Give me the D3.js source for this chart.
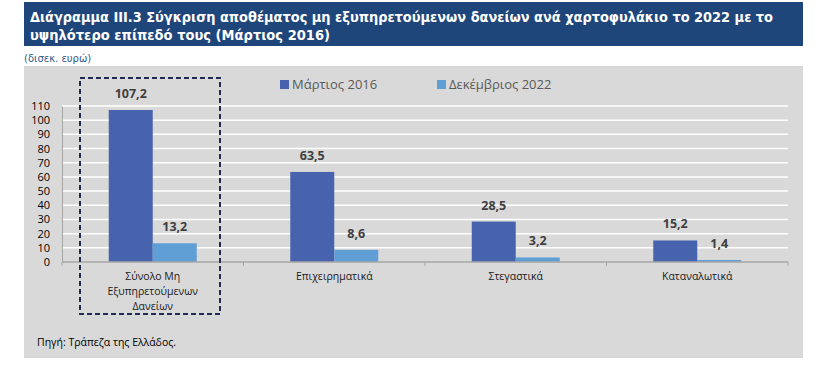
<!DOCTYPE html>
<html>
<head>
<meta charset="utf-8">
<script src="https://cdn.jsdelivr.net/npm/d3@7"></script>
<style>
	body { margin: 0; background: #fff; }
	svg { display: block; }
</style>
</head>
<body>
<svg id="chart" width="838" height="367"></svg>
<script>
//===== DATA =====//

var categories = [
	['Σύνολο Μη', 'Εξυπηρετούμενων', 'Δανείων'],
	['Επιχειρηματικά'],
	['Στεγαστικά'],
	['Καταναλωτικά']
];
var seriesNames = ['Μάρτιος 2016', 'Δεκέμβριος 2022'];
var march2016 = [107.2, 63.5, 28.5, 15.2];
var dec2022 = [13.2, 8.6, 3.2, 1.4];
var yTicks = [0, 10, 20, 30, 40, 50, 60, 70, 80, 90, 100, 110];

var titleLines = [
	'Διάγραμμα III.3 Σύγκριση αποθέματος μη εξυπηρετούμενων δανείων ανά χαρτοφυλάκιο το 2022 με το',
	'υψηλότερο επίπεδό τους (Μάρτιος 2016)'
];
var titleWidths = [743, 300]; // fit to the narrower original face
var unitLabel = '(δισεκ. ευρώ)';
var sourceLabel = 'Πηγή: Τράπεζα της Ελλάδος.';

//===== LAYOUT =====//

var colors = ['#4863ae', '#5f9fd6'];
var labelFont = '"Open Sans", "Noto Sans", sans-serif';
var svg = d3.select('#chart');

// title box
svg.append('rect')
	.attr('x', 24).attr('y', 2)
	.attr('width', 779).attr('height', 44)
	.attr('fill', '#1f467a');
svg.selectAll('text.title').data(titleLines).enter()
	.append('text')
	.classed('title', true)
	.attr('x', 30)
	.attr('y', function (d, i) { return 22 + i * 18; })
	.attr('fill', '#fff')
	.attr('textLength', function (d, i) { return titleWidths[i]; })
	.attr('lengthAdjust', 'spacingAndGlyphs')
	.style('font', 'bold 14px Verdana, "DejaVu Sans", sans-serif')
	.text(function (d) { return d; });

svg.append('text')
	.attr('x', 24).attr('y', 62)
	.attr('fill', '#2e5a8e')
	.style('font', '10px Verdana, "DejaVu Sans", sans-serif')
	.text(unitLabel);

// grey panel
svg.append('rect')
	.attr('x', 24).attr('y', 66)
	.attr('width', 779).attr('height', 292)
	.attr('fill', '#d9d9d9');

var x0 = d3.scaleBand()
	.domain(d3.range(categories.length))
	.range([62, 788])
	.padding(0);
var x1 = d3.scaleBand()
	.domain(d3.range(seriesNames.length))
	.range([x0.bandwidth() / 2 - 44, x0.bandwidth() / 2 + 44]);
var y = d3.scaleLinear()
	.domain([0, 110])
	.range([262, 106]);

// gridlines
svg.append('g')
	.selectAll('line').data(yTicks.slice(1)).enter()
	.append('line')
	.attr('x1', 62).attr('x2', 788)
	.attr('y1', function (d) { return y(d); })
	.attr('y2', function (d) { return y(d); })
	.attr('stroke', '#fff')
	.attr('stroke-width', 1.5);

// y axis
var yAxis = svg.append('g')
	.attr('transform', 'translate(62,0)')
	.call(d3.axisLeft(y).tickValues(yTicks).tickSize(0).tickPadding(12));
yAxis.select('.domain').attr('stroke', '#a6a6a6');
yAxis.selectAll('text')
	.attr('fill', '#000')
	.style('font', '11px ' + labelFont);

// bars
var series = [march2016, dec2022];
var groups = svg.selectAll('g.series').data(series).enter()
	.append('g')
	.classed('series', true)
	.attr('fill', function (d, i) { return colors[i]; });

groups.each(function (vals, si) {
	var g = d3.select(this);
	g.selectAll('rect').data(vals).enter()
		.append('rect')
		.attr('x', function (d, i) { return x0(i) + x1(si); })
		.attr('y', function (d) { return y(d); })
		.attr('width', x1.bandwidth())
		.attr('height', function (d) { return y(0) - y(d); });
	g.selectAll('text').data(vals).enter()
		.append('text')
		.attr('x', function (d, i) { return x0(i) + x1(si) + x1.bandwidth() / 2; })
		.attr('y', function (d) { return y(d) - 12; })
		.attr('text-anchor', 'middle')
		.attr('fill', '#404040')
		.style('font', 'bold 12.5px ' + labelFont)
		.text(function (d) { return d.toFixed(1).replace('.', ','); });
});

// x axis
var xAxis = svg.append('g')
	.attr('transform', 'translate(0,262)');
xAxis.append('line')
	.attr('x1', 62).attr('x2', 788)
	.attr('stroke', '#a6a6a6').attr('stroke-width', 1.5);
xAxis.selectAll('line.tick').data(d3.range(categories.length + 1)).enter()
	.append('line')
	.classed('tick', true)
	.attr('x1', function (d) { return 62 + d * x0.bandwidth(); })
	.attr('x2', function (d) { return 62 + d * x0.bandwidth(); })
	.attr('y1', 0).attr('y2', 4)
	.attr('stroke', '#a6a6a6');

var catLabels = svg.selectAll('text.cat').data(categories).enter()
	.append('text')
	.classed('cat', true)
	.attr('text-anchor', 'middle')
	.attr('fill', '#1a1a1a')
	.style('font', '10.5px ' + labelFont);
catLabels.selectAll('tspan').data(function (d, i) {
		return d.map(function (line) { return {line: line, i: i}; });
	}).enter()
	.append('tspan')
	.attr('x', function (d) { return x0(d.i) + x0.bandwidth() / 2; })
	.attr('y', function (d, j) { return 280 + j * 15; })
	.text(function (d) { return d.line; });

// legend
var legend = svg.selectAll('g.legend').data(seriesNames).enter()
	.append('g')
	.classed('legend', true)
	.attr('transform', function (d, i) { return 'translate(' + (280 + i * 157) + ',80)'; });
legend.append('rect')
	.attr('width', 9).attr('height', 9)
	.attr('fill', function (d, i) { return colors[i]; });
legend.append('text')
	.attr('x', 12).attr('y', 9)
	.attr('fill', '#595959')
	.style('font', '13px ' + labelFont)
	.text(function (d) { return d; });

// dashed highlight box
svg.append('rect')
	.attr('x', 80).attr('y', 78)
	.attr('width', 140).attr('height', 236)
	.attr('fill', 'none')
	.attr('stroke', '#1f2a55')
	.attr('stroke-width', 2)
	.attr('stroke-dasharray', '5,3');

svg.append('text')
	.attr('x', 37).attr('y', 346)
	.attr('fill', '#000')
	.style('font', '10.5px ' + labelFont)
	.text(sourceLabel);
</script>
</body>
</html>
